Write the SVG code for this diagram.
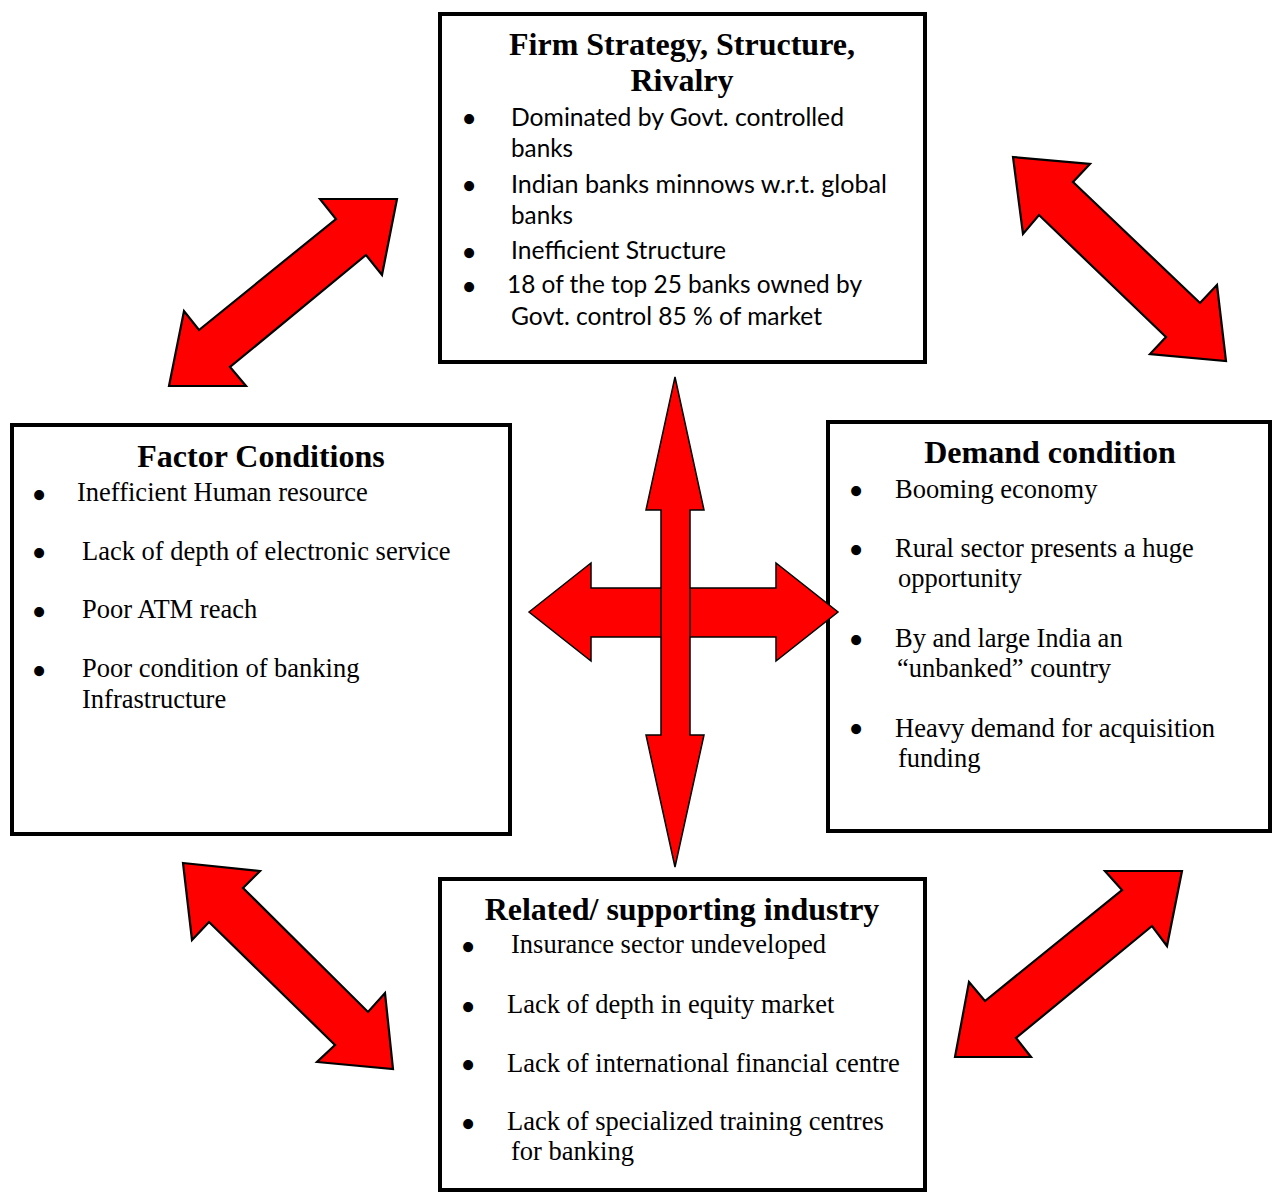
<svg xmlns="http://www.w3.org/2000/svg" width="1272" height="1193" viewBox="0 0 1272 1193">
<style>
.box{fill:#fff;stroke:#000;stroke-width:4}
.arr{fill:#ff0000;stroke:#000;stroke-width:2.2;stroke-linejoin:miter}
.cross{fill:#ff0000;stroke:#000;stroke-width:1.5}
.t{font-family:"Liberation Serif","Times New Roman",serif;font-size:32px;font-weight:bold;fill:#000;text-anchor:middle}
.s{font-family:"Liberation Serif","Times New Roman",serif;font-size:26.5px;fill:#000}
.c{font-family:Lato,"Open Sans","Liberation Sans",sans-serif;font-size:25px;fill:#000}
.b{font-family:"Liberation Serif","Times New Roman",serif;font-size:42px;fill:#000;text-anchor:middle}
</style>
<rect width="1272" height="1193" fill="#fff"/>

<g id="firm">
<rect class="box" x="440" y="14" width="485" height="348"/>
<text class="t" x="682" y="55">Firm Strategy, Structure,</text>
<text class="t" x="682" y="91">Rivalry</text>
<text class="b" x="469" y="133">•</text>
<text class="c" x="511" y="126" textLength="333" lengthAdjust="spacingAndGlyphs">Dominated by Govt. controlled</text>
<text class="c" x="511" y="157" textLength="62" lengthAdjust="spacingAndGlyphs">banks</text>
<text class="b" x="469" y="200">•</text>
<text class="c" x="511" y="193" textLength="376" lengthAdjust="spacingAndGlyphs">Indian banks minnows w.r.t. global</text>
<text class="c" x="511" y="224" textLength="62" lengthAdjust="spacingAndGlyphs">banks</text>
<text class="b" x="469" y="267">•</text>
<text class="c" x="511" y="259" textLength="215" lengthAdjust="spacingAndGlyphs">Inefficient Structure</text>
<text class="b" x="469" y="301">•</text>
<text class="c" x="507" y="293" textLength="355" lengthAdjust="spacingAndGlyphs">18 of the top 25 banks owned by</text>
<text class="c" x="511" y="325" textLength="311" lengthAdjust="spacingAndGlyphs">Govt. control 85 % of market</text>
</g>

<g id="factor">
<rect class="box" x="12" y="425" width="498" height="409"/>
<text class="t" x="261" y="467">Factor Conditions</text>
<text class="b" x="39" y="509">•</text>
<text class="s" x="77" y="501">Inefficient Human resource</text>
<text class="b" x="39" y="567">•</text>
<text class="s" x="82" y="560">Lack of depth of electronic service</text>
<text class="b" x="39" y="626">•</text>
<text class="s" x="82" y="618">Poor ATM reach</text>
<text class="b" x="39" y="685">•</text>
<text class="s" x="82" y="677">Poor condition of banking</text>
<text class="s" x="82" y="708">Infrastructure</text>
</g>

<g id="demand">
<rect class="box" x="828" y="422" width="442" height="409"/>
<text class="t" x="1050" y="463">Demand condition</text>
<text class="b" x="856" y="505">•</text>
<text class="s" x="895" y="498">Booming economy</text>
<text class="b" x="856" y="564">•</text>
<text class="s" x="895" y="557">Rural sector presents a huge</text>
<text class="s" x="898" y="587">opportunity</text>
<text class="b" x="856" y="654">•</text>
<text class="s" x="895" y="647">By and large India an</text>
<text class="s" x="897" y="677">“unbanked” country</text>
<text class="b" x="856" y="743">•</text>
<text class="s" x="895" y="737">Heavy demand for acquisition</text>
<text class="s" x="898" y="767">funding</text>
</g>

<g id="related">
<rect class="box" x="440" y="879" width="485" height="311"/>
<text class="t" x="682" y="920">Related/ supporting industry</text>
<text class="b" x="468" y="961">•</text>
<text class="s" x="511" y="953">Insurance sector undeveloped</text>
<text class="b" x="468" y="1021">•</text>
<text class="s" x="507" y="1013">Lack of depth in equity market</text>
<text class="b" x="468" y="1079">•</text>
<text class="s" x="507" y="1072">Lack of international financial centre</text>
<text class="b" x="468" y="1138">•</text>
<text class="s" x="507" y="1130">Lack of specialized training centres</text>
<text class="s" x="511" y="1160">for banking</text>
</g>

<g id="connectors">
<polygon class="arr" points="397,199 382,275 366,255 230,367 246,386 169,386 184,311 199,330 336,219 320,199"/>
<polygon class="arr" points="1013,157 1090,164 1073,182 1200,303 1217,285 1226,361 1150,354 1166,337 1039,215 1023,234"/>
<polygon class="arr" points="183,863 260,871 243,888 368,1012 385,993 393,1069 317,1062 335,1045 209,922 192,940"/>
<polygon class="arr" points="1182,871 1167,946 1152,926 1016,1038 1031,1057 955,1057 969,982 985,1001 1122,890 1105,871"/>
<polygon class="cross" points="529,612 591,563 591,588 776,588 776,563 838,612 776,661 776,637 591,637 591,661"/>
<polygon class="cross" points="675,377 704,510 690,510 690,735 704,735 675,867 646,735 661,735 661,510 646,510"/>
</g>
</svg>
